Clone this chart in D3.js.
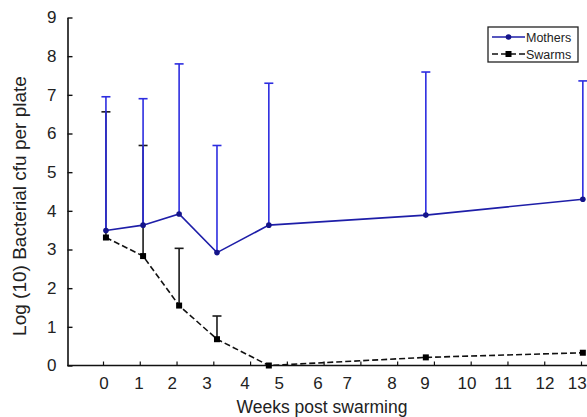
<!DOCTYPE html>
<html>
<head>
<meta charset="utf-8">
<script src="https://cdn.jsdelivr.net/npm/d3@7"></script>
<style>
  body { margin: 0; background: #fff; }
  text { font-family: "Liberation Sans", Arial, sans-serif; }
</style>
</head>
<body>
<svg id="chart" width="587" height="417"></svg>
<script>
// x values are in axis-tick units (ticks evenly spaced 0..13)
const pointX = [0.08, 1.09, 2.07, 3.1, 4.51, 8.78, 13.05];
const mothers = [3.49, 3.63, 3.92, 2.92, 3.63, 3.89, 4.3];
const mothersTop = [6.95, 6.9, 7.8, 5.69, 7.3, 7.59, 7.36];
const swarms = [3.31, 2.83, 1.55, 0.68, 0.0, 0.21, 0.33];
const swarmsTop = [6.56, 5.69, 3.03, 1.28, null, null, null];

const tickLabels = ["0", "1", "2", "3", "4", "5", "6", "7", "8", "9", "10", "11", "12", "13"];
// where each label sits along the axis (labels in the original are not on the ticks)
const labelAt = [0.03, 0.98, 1.88, 2.83, 3.86, 4.79, 5.85, 6.64, 7.86, 8.76, 9.9, 10.88, 12.02, 12.9];
const yTicks = [0, 1, 2, 3, 4, 5, 6, 7, 8, 9];

const svg = d3.select("#chart");
const mLeft = 67.5, mRight = 587, mBottom = 365.5, mTop = 17.5;

const x = d3.scaleLinear().domain([0, 13]).range([103, 581]);
const y = d3.scaleLinear().domain([0, 9]).range([mBottom, mTop]);

// y axis
const yAxis = svg.append("g")
  .attr("transform", `translate(${mLeft},0)`)
  .call(d3.axisLeft(y).tickValues(yTicks).tickSizeInner(-5).tickSizeOuter(0).tickPadding(10));
yAxis.select(".domain").attr("stroke", "#111").attr("stroke-width", 1.6);
yAxis.selectAll(".tick line").attr("stroke", "#111").attr("stroke-width", 1.4);
yAxis.selectAll(".tick text").attr("font-size", 17).attr("fill", "#222").attr("x", -11);

// x axis: marks from the scale, labels at their own spots
const xAxis = svg.append("g")
  .attr("transform", `translate(0,${mBottom})`)
  .call(d3.axisBottom(x).tickValues(d3.range(14)).tickSizeInner(-4).tickSizeOuter(0).tickFormat(""));
xAxis.select(".domain").remove();
xAxis.selectAll(".tick line").attr("stroke", "#111").attr("stroke-width", 1.2);
svg.append("line")
  .attr("x1", mLeft).attr("x2", mRight)
  .attr("y1", mBottom).attr("y2", mBottom)
  .attr("stroke", "#111").attr("stroke-width", 1.6);

svg.append("g").selectAll("text")
  .data(tickLabels)
  .join("text")
  .attr("x", (d, i) => x(labelAt[i]))
  .attr("y", mBottom + 23)
  .attr("text-anchor", "middle")
  .attr("font-size", 17)
  .attr("fill", "#222")
  .text(d => d);

// titles
svg.append("text")
  .attr("x", 322).attr("y", 413)
  .attr("text-anchor", "middle")
  .attr("font-size", 17.5)
  .attr("fill", "#222")
  .text("Weeks post swarming");

svg.append("text")
  .attr("transform", "translate(26,206) rotate(-90)")
  .attr("text-anchor", "middle")
  .attr("font-size", 19)
  .attr("fill", "#222")
  .text("Log (10) Bacterial cfu per plate");

// error bars (upper only)
function errorBars(vals, tops, color) {
  const g = svg.append("g").attr("stroke", color).attr("stroke-width", 1.6);
  vals.forEach((v, i) => {
    if (tops[i] == null) return;
    const cx = x(pointX[i]);
    g.append("line").attr("x1", cx).attr("x2", cx).attr("y1", y(v)).attr("y2", y(tops[i]));
    g.append("line").attr("x1", cx - 4.5).attr("x2", cx + 4.5).attr("y1", y(tops[i])).attr("y2", y(tops[i]));
  });
}
errorBars(swarms, swarmsTop, "#1a1a1a");
errorBars(mothers, mothersTop, "#2d2de0");

const line = d3.line().x((d, i) => x(pointX[i])).y(d => y(d));

// mothers
svg.append("path")
  .datum(mothers)
  .attr("d", line)
  .attr("fill", "none")
  .attr("stroke", "#1e1ea8")
  .attr("stroke-width", 1.6);
svg.append("g").selectAll("circle")
  .data(mothers)
  .join("circle")
  .attr("cx", (d, i) => x(pointX[i]))
  .attr("cy", d => y(d))
  .attr("r", 2.8)
  .attr("fill", "#14148a");

// swarms
svg.append("path")
  .datum(swarms)
  .attr("d", line)
  .attr("fill", "none")
  .attr("stroke", "#111")
  .attr("stroke-width", 1.6)
  .attr("stroke-dasharray", "6,3");
svg.append("g").selectAll("rect")
  .data(swarms)
  .join("rect")
  .attr("x", (d, i) => x(pointX[i]) - 3)
  .attr("y", d => y(d) - 3)
  .attr("width", 6)
  .attr("height", 6)
  .attr("fill", "#000");

// legend
const lg = svg.append("g").attr("transform", "translate(488,27)");
lg.append("rect")
  .attr("width", 90).attr("height", 35)
  .attr("fill", "#fff").attr("stroke", "#222").attr("stroke-width", 1.3);
lg.append("line").attr("x1", 4).attr("x2", 37).attr("y1", 10).attr("y2", 10)
  .attr("stroke", "#1e1ea8").attr("stroke-width", 1.4);
lg.append("circle").attr("cx", 20.5).attr("cy", 10).attr("r", 2.8).attr("fill", "#14148a");
lg.append("text").attr("x", 38).attr("y", 14.5).attr("font-size", 12.5).attr("fill", "#222").text("Mothers");
lg.append("line").attr("x1", 4).attr("x2", 37).attr("y1", 27).attr("y2", 27)
  .attr("stroke", "#111").attr("stroke-width", 1.4).attr("stroke-dasharray", "6,3");
lg.append("rect").attr("x", 17.5).attr("y", 24).attr("width", 6).attr("height", 6).attr("fill", "#000");
lg.append("text").attr("x", 38).attr("y", 31.5).attr("font-size", 12.5).attr("fill", "#222").text("Swarms");
</script>
</body>
</html>
